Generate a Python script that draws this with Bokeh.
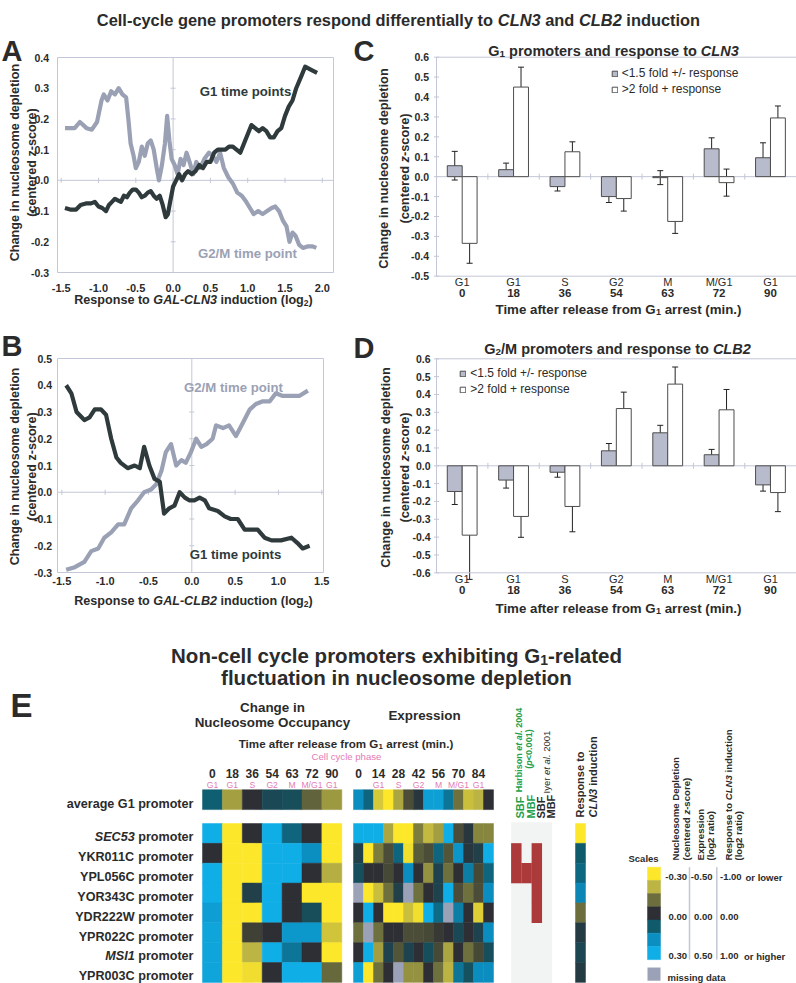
import math
import numpy as np
from bokeh.plotting import figure
from bokeh.models import (Range1d, Label, LabelSet, ColumnDataSource, Whisker, TeeHead, Legend, LegendItem)
from bokeh.core.properties import value
from bokeh.transform import linear_cmap
from bokeh.embed import file_html
from bokeh.resources import INLINE

nan = float("nan")

# ---------------- data: panel A (response to GAL-CLN3) ----------------
a_g1_x = [-1.45, -1.38, -1.30, -1.24, -1.17, -1.10, -1.05, -1.00, -0.95, -0.90, -0.86, -0.82, -0.78, -0.74,
          -0.70, -0.66, -0.62, -0.58, -0.54, -0.50, -0.46, -0.42, -0.38, -0.34, -0.30, -0.26, -0.22, -0.18,
          -0.14, -0.10, -0.07, -0.04, 0.00, 0.04, 0.08, 0.12, 0.16, 0.20, 0.25, 0.30, 0.35, 0.40, 0.45, 0.50,
          0.55, 0.60, 0.65, 0.70, 0.75, 0.80, 0.85, 0.90, 0.95, 1.00, 1.05, 1.10, 1.15, 1.20, 1.25, 1.30,
          1.35, 1.40, 1.45, 1.50, 1.55, 1.60, 1.65, 1.72, 1.77, 1.85, 1.93]
a_g1_y = [-0.090, -0.095, -0.095, -0.080, -0.075, -0.075, -0.070, -0.085, -0.090, -0.100, -0.080, -0.070,
          -0.060, -0.065, -0.070, -0.050, -0.055, -0.040, -0.030, -0.030, -0.040, -0.055, -0.050, -0.040,
          -0.035, -0.050, -0.060, -0.050, -0.080, -0.120, -0.110, -0.070, -0.020, 0.000, 0.020, 0.000,
          0.020, 0.030, 0.020, 0.030, 0.050, 0.040, 0.060, 0.060, 0.090, 0.100, 0.100, 0.100, 0.110, 0.110,
          0.100, 0.090, 0.120, 0.150, 0.180, 0.170, 0.160, 0.170, 0.160, 0.140, 0.140, 0.160, 0.170, 0.210,
          0.240, 0.260, 0.300, 0.340, 0.370, 0.360, 0.350]
a_g2m_x = [-1.45, -1.32, -1.25, -1.16, -1.09, -1.02, -0.96, -0.93, -0.88, -0.83, -0.78, -0.73, -0.68, -0.63,
           -0.60, -0.57, -0.53, -0.50, -0.46, -0.42, -0.38, -0.34, -0.30, -0.26, -0.22, -0.19, -0.15, -0.11,
           -0.08, -0.05, -0.02, 0.02, 0.06, 0.10, 0.14, 0.18, 0.22, 0.27, 0.31, 0.36, 0.42, 0.48, 0.53, 0.58,
           0.63, 0.68, 0.74, 0.80, 0.86, 0.92, 0.98, 1.03, 1.08, 1.14, 1.20, 1.26, 1.32, 1.37, 1.42, 1.47,
           1.52, 1.56, 1.60, 1.64, 1.69, 1.74, 1.80, 1.87, 1.92]
a_g2m_y = [0.170, 0.170, 0.190, 0.170, 0.165, 0.190, 0.260, 0.280, 0.260, 0.290, 0.280, 0.300, 0.280, 0.270,
           0.200, 0.120, 0.080, 0.040, 0.060, 0.110, 0.080, 0.120, 0.130, 0.100, 0.040, 0.000, 0.050, 0.120,
           0.210, 0.130, 0.070, 0.050, 0.020, 0.070, 0.050, 0.090, 0.060, 0.020, 0.060, 0.040, 0.070, 0.090,
           0.080, 0.060, 0.090, 0.040, 0.010, -0.010, -0.040, -0.050, -0.070, -0.090, -0.110, -0.100, -0.110,
           -0.100, -0.090, -0.085, -0.100, -0.130, -0.150, -0.200, -0.170, -0.180, -0.210, -0.220, -0.215,
           -0.215, -0.220]
a_xticks = [-1.5, -1.0, -0.5, 0.0, 0.5, 1.0, 1.5, 2.0]
a_yticks = [-0.3, -0.2, -0.1, 0.0, 0.1, 0.2, 0.3, 0.4]

# ---------------- data: panel B (response to GAL-CLB2) ----------------
b_g1_x = [-1.45, -1.39, -1.33, -1.24, -1.18, -1.12, -1.05, -0.99, -0.93, -0.87, -0.82, -0.74, -0.66, -0.60,
          -0.55, -0.49, -0.43, -0.37, -0.32, -0.26, -0.20, -0.14, -0.08, -0.03, 0.03, 0.09, 0.15, 0.20, 0.30,
          0.38, 0.45, 0.53, 0.61, 0.68, 0.76, 0.84, 0.92, 1.03, 1.15, 1.22, 1.28, 1.36]
b_g1_y = [0.40, 0.37, 0.30, 0.27, 0.28, 0.31, 0.31, 0.29, 0.20, 0.13, 0.11, 0.09, 0.10, 0.09, 0.17, 0.10,
          0.05, 0.04, -0.08, -0.06, -0.05, 0.00, -0.02, -0.03, -0.03, -0.02, -0.03, -0.06, -0.07, -0.09,
          -0.10, -0.10, -0.14, -0.14, -0.14, -0.17, -0.18, -0.18, -0.17, -0.19, -0.21, -0.20]
b_g2m_x = [-1.45, -1.35, -1.24, -1.16, -1.08, -1.01, -0.93, -0.85, -0.78, -0.70, -0.62, -0.55, -0.47, -0.41,
           -0.35, -0.30, -0.24, -0.18, -0.12, -0.07, -0.01, 0.05, 0.11, 0.17, 0.24, 0.28, 0.36, 0.43, 0.51,
           0.59, 0.67, 0.74, 0.82, 0.90, 0.97, 1.05, 1.15, 1.24, 1.34]
b_g2m_y = [-0.29, -0.28, -0.26, -0.22, -0.21, -0.17, -0.15, -0.12, -0.12, -0.06, -0.03, 0.00, 0.01, 0.03,
           0.08, 0.15, 0.18, 0.10, 0.12, 0.11, 0.15, 0.20, 0.17, 0.18, 0.20, 0.25, 0.24, 0.25, 0.21, 0.26,
           0.31, 0.33, 0.34, 0.34, 0.37, 0.36, 0.36, 0.36, 0.38]
b_xticks = [-1.5, -1.0, -0.5, 0.0, 0.5, 1.0, 1.5]
b_yticks = [-0.3, -0.2, -0.1, 0.0, 0.1, 0.2, 0.3, 0.4, 0.5]

# ---------------- data: panels C and D ----------------
phases = ["G1", "G1", "S", "G2", "M", "M/G1", "G1"]
times = ["0", "18", "36", "54", "63", "72", "90"]
c_low = [0.055, 0.035, -0.050, -0.100, -0.005, 0.140, 0.095]
c_low_err = [0.072, 0.033, 0.022, 0.030, 0.035, 0.055, 0.075]
c_high = [-0.335, 0.450, 0.125, -0.110, -0.225, -0.030, 0.295]
c_high_err = [0.100, 0.100, 0.050, 0.063, 0.060, 0.068, 0.060]
c_yticks = [-0.5, -0.4, -0.3, -0.2, -0.1, 0.0, 0.1, 0.2, 0.3, 0.4, 0.5, 0.6]
d_low = [-0.144, -0.080, -0.036, 0.084, 0.185, 0.062, -0.107]
d_low_err = [0.073, 0.045, 0.028, 0.041, 0.042, 0.030, 0.035]
d_high = [-0.389, -0.284, -0.228, 0.321, 0.458, 0.314, -0.150]
d_high_err = [0.248, 0.117, 0.142, 0.092, 0.096, 0.114, 0.107]
d_yticks = [-0.6, -0.5, -0.4, -0.3, -0.2, -0.1, 0.0, 0.1, 0.2, 0.3, 0.4, 0.5, 0.6]
legend_labels = ["<1.5 fold +/- response", ">2 fold + response"]

# ---------------- data: panel E ----------------
genes = ["SEC53", "YKR011C", "YPL056C", "YOR343C", "YDR222W", "YPR022C", "MSI1", "YPR003C"]
gene_italic = [True, False, False, False, False, False, True, False]
nuc_times = ["0", "18", "36", "54", "63", "72", "90"]
nuc_phases = ["G1", "G1", "S", "G2", "M", "M/G1", "G1"]
nuc_avg = [0.11, -0.17, 0.00, 0.06, 0.07, -0.08, -0.16]
nuc_genes = [
    [0.30, -0.30, 0.00, 0.30, 0.12, 0.00, -0.30],
    [0.00, -0.30, -0.30, 0.30, 0.30, 0.20, -0.30],
    [0.30, -0.30, -0.30, 0.30, 0.30, 0.00, -0.19],
    [0.30, -0.30, 0.04, 0.30, 0.00, -0.30, -0.30],
    [0.25, -0.30, -0.30, 0.30, 0.00, 0.07, -0.30],
    [0.27, -0.30, -0.03, 0.00, 0.23, 0.23, -0.23],
    [0.27, -0.30, -0.20, 0.30, 0.15, 0.00, -0.30],
    [0.27, -0.30, -0.28, 0.00, 0.30, 0.30, -0.09],
]
expr_times = ["0", "7", "14", "21", "28", "35", "42", "49", "56", "63", "70", "77", "84", "91"]
expr_shown = ["0", "14", "28", "42", "56", "70", "84"]
expr_phases = ["", "G1", "S", "G2", "M", "M/G1", "G1"]
expr_avg = [0.33, 0.20, -0.40, -0.50, -0.30, -0.08, 0.03, 0.42, 0.42, 0.25, -0.17, -0.37, -0.33, 0.00]
expr_genes = [
    [0.50, 0.50, 0.50, -0.30, -0.50, -0.50, -0.20, -0.35, -0.28, 0.50, -0.08, 0.03, -0.22, -0.22],
    [0.07, -0.50, -0.20, -0.08, 0.20, -0.47, -0.12, -0.08, 0.20, -0.10, 0.37, 0.03, 0.07, 0.50],
    [0.12, 0.00, 0.00, -0.07, 0.00, 0.33, 0.00, -0.25, 0.08, -0.17, 0.00, 0.28, -0.07, 0.20],
    [nan, -0.50, -0.37, -0.17, 0.07, nan, -0.17, 0.00, 0.08, 0.50, -0.08, -0.17, -0.08, 0.33],
    [0.00, 0.50, 0.00, -0.50, -0.50, -0.37, -0.47, 0.50, 0.22, nan, 0.28, 0.00, -0.42, 0.00],
    [-0.17, nan, -0.17, 0.00, 0.00, -0.08, -0.08, -0.07, -0.03, 0.00, 0.10, 0.00, 0.08, 0.33],
    [0.00, 0.50, -0.28, 0.08, -0.10, 0.08, 0.00, 0.12, -0.07, -0.30, 0.00, -0.17, -0.07, 0.12],
    [0.42, -0.50, -0.17, 0.00, nan, -0.25, -0.25, 0.00, -0.17, -0.33, 0.25, 0.13, 0.33, 0.33],
]
tf_names = ["SBF", "MBF", "SBF", "MBF"]
tf_hits = [
    [0, 0, 0, 0],
    [1, 0, 1, 0],
    [1, 1, 1, 0],
    [0, 0, 1, 0],
    [0, 0, 1, 0],
    [0, 0, 0, 0],
    [0, 0, 0, 0],
    [0, 0, 0, 0],
]
cln3_response = [-1.00, 0.33, 0.42, 0.62, -0.33, 0.10, 0.18, 0.10]
scale_levels = [-0.30, -0.20, -0.10, 0.00, 0.10, 0.20, 0.30]
scale_nuc_text = ["-0.30", "0.00", "0.30"]
scale_expr_text = ["-0.50", "0.00", "0.50"]
scale_resp_text = ["-1.00", "0.00", "1.00"]

# ---------------- styling ----------------
FONT = "Liberation Sans"
INK = "#2b2b2b"
DARK = "#2f3a3c"
LIGHT = "#9ba1b4"
FRAME = "#c3c7d7"
PINK = "#e37bb5"
GREEN = "#22a04b"
RED = "#ad3a3a"
GRAYBAR = "#b7bbcc"
BARLINE = "#4d4d4d"
NAN_C = "#9ba1b6"
TF_BG = "#f2f4f4"
ANCHORS = ["#fce72a", "#bcb443", "#6c6f3d", "#2d2e33", "#0f5a6b", "#0b8ec0", "#10aee6"]


def interp_palette(cols, n=256):
    arr = np.array([[int(c[i:i + 2], 16) for i in (1, 3, 5)] for c in cols], float)
    out = []
    for v in np.linspace(0, len(cols) - 1, n):
        i = min(int(v), len(cols) - 2)
        f = v - i
        c = arr[i] * (1 - f) + arr[i + 1] * f
        out.append("#%02x%02x%02x" % tuple(int(round(x)) for x in c))
    return out


PAL = interp_palette(ANCHORS)

# Arial-compatible advance widths (Liberation Sans), per 1000 em
_UP = "ABCDEFGHIJKLMNOPQRSTUVWXYZ"
_LO = "abcdefghijklmnopqrstuvwxyz"
REG_W = dict(zip(_UP, [667, 667, 722, 722, 667, 611, 778, 722, 278, 500, 667, 556, 833, 722, 778, 667, 778,
                       722, 667, 611, 722, 667, 944, 667, 667, 611]))
REG_W.update(zip(_LO, [556, 556, 500, 556, 556, 278, 556, 556, 222, 222, 500, 222, 833, 556, 556, 556, 556,
                       333, 500, 278, 556, 500, 722, 500, 500, 500]))
REG_W.update(zip(" !()+,-./:<>", [278, 278, 333, 333, 584, 278, 333, 278, 278, 278, 584, 584]))
BOLD_W = dict(zip(_UP, [722, 722, 722, 722, 667, 611, 778, 722, 278, 556, 722, 611, 833, 722, 778, 667, 778,
                        722, 667, 611, 722, 667, 944, 667, 667, 611]))
BOLD_W.update(zip(_LO, [556, 611, 556, 611, 556, 333, 611, 611, 278, 278, 556, 278, 889, 611, 611, 611, 611,
                        389, 556, 333, 611, 556, 778, 556, 556, 500]))
BOLD_W.update(zip(" !()+,-./:<>", [278, 333, 333, 333, 584, 278, 333, 278, 278, 333, 584, 584]))

W, H = 796, 983
P = figure(width=W, height=H, x_range=Range1d(0, W), y_range=Range1d(H, 0), output_backend="svg",
           toolbar_location=None, title_location=None, x_axis_location=None, y_axis_location=None,
           min_border=0)
P.outline_line_color = None
P.grid.visible = False


def _w(text, bold):
    tab = BOLD_W if bold else REG_W
    return sum(tab.get(ch, 556) for ch in text) / 1000.0


def rich(x, y, segs, size, align="left", angle=0.0, color=INK):
    """Text segments; x, y: pixel position of the baseline anchor from the top-left of the page."""
    parts, total = [], 0.0
    for t, fl in segs:
        sz = size * (0.68 if "s" in fl else 1.0)
        lead = len(t) - len(t.lstrip(" "))
        parts.append((t.strip(" "), fl, sz, total + _w(" " * lead, "b" in fl) * sz))
        total += _w(t, "b" in fl) * sz
    shift = {"left": 0.0, "center": total / 2.0, "right": total}[align]
    vert = abs(angle) > 0.1
    for t, fl, sz, off in parts:
        o = off - shift
        dn = 0.22 * size if "s" in fl else 0.0
        px, py = (x + dn, y - o) if vert else (x + o, y + dn)
        style = (("bold " if "b" in fl else "") + ("italic" if "i" in fl else "")).strip() or "normal"
        P.add_layout(Label(x=px, y=H - py, x_units="screen", y_units="screen", text=t,
                           text_font=FONT, text_font_size=f"{sz:.2f}px", text_font_style=style,
                           text_color=color, text_align="left", text_baseline="alphabetic", angle=angle))


def txt(x, y, text, size, fl="b", align="left", angle=0.0, color=INK):
    rich(x, y, [(text, fl)], size, align, angle, color)


def vtitle(cx, cy, segs, size):
    rich(cx + 0.36 * size, cy, segs, size, "center", math.pi / 2)


def lin_range(d0, p0, d1, p1, P0, P1):
    k = (d1 - d0) / (p1 - p0)
    return Range1d(start=d0 + (P0 - p0) * k, end=d0 + (P1 - p0) * k)


def band(left, pitch, lo, hi):
    return Range1d(start=(lo - left) / pitch - 0.5, end=(hi - left) / pitch - 0.5)


# chart boxes (pixel placement of each chart's data area)
A_BOX = dict(x=(-1.55, 57, 2.15, 333), y=(0.4, 57, -0.3, 272))
B_BOX = dict(x=(-1.55, 57, 1.52, 323), y=(0.5, 358, -0.3, 572))
PITCH = 51.38
C_BOX = dict(x=(0, 436, (796 - 436) / PITCH, 796), y=(0.6, 56.7, -0.5, 275.7))
D_BOX = dict(x=(0, 436, (796 - 436) / PITCH, 796), y=(0.6, 358.3, -0.6, 572.3))

NUC_L, NUC_P = 202, 19.9
EXP_L, EXP_P = 353, 10
TF_L, TF_P = 510.7, 10.25
RSP_L = 575
ROW_T, ROW_P = 823, 19.86
SW_T, SW_P = 866.7, 13.2

P.extra_x_ranges = {
    "ax": lin_range(*A_BOX["x"], 0, W), "bx": lin_range(*B_BOX["x"], 0, W),
    "cx": lin_range(*C_BOX["x"], 0, W),
    "nuc": band(NUC_L, NUC_P, 0, W), "expr": band(EXP_L, EXP_P, 0, W), "tf": band(TF_L, TF_P, 0, W),
    "resp": band(RSP_L, 10, 0, W), "sw": band(647, 13, 0, W)}
P.extra_y_ranges = {
    "ay": lin_range(*A_BOX["y"], H, 0), "by": lin_range(*B_BOX["y"], H, 0),
    "cy": lin_range(*C_BOX["y"], H, 0), "dy": lin_range(*D_BOX["y"], H, 0),
    "rows": band(ROW_T, ROW_P, H, 0), "sw": band(SW_T, SW_P, H, 0)}

TXT_PROPS = dict(text_font=value(FONT), text_color=INK)


def tick_labels(vals, fmt, rn, axis, pos, size, align):
    src = ColumnDataSource(dict(t=vals, s=[fmt % v for v in vals]))
    if axis == "y":
        ls = LabelSet(x=pos, x_units="screen", y="t", y_range_name=rn, text="s", source=src,
                      text_align=align, text_baseline="middle", text_font_size=value(f"{size}px"),
                      text_font_style=value("bold"), **TXT_PROPS)
    else:
        ls = LabelSet(x="t", x_range_name=rn, y=H - pos, y_units="screen", text="s", source=src,
                      text_align="center", text_baseline="middle", text_font_size=value(f"{size}px"),
                      text_font_style=value("bold"), **TXT_PROPS)
    P.add_layout(ls)


# ---------------- header ----------------
rich(398, 19.9, [("Cell-cycle gene promoters respond differentially to ", "b"), ("CLN3", "bi"),
                 (" and ", "b"), ("CLB2", "bi"), (" induction", "b")], 16.4, "center")


# ---------------- panels A and B ----------------
def line_chart(xn, yn, box, xticks, yticks, ylab_right, xlab_y, series):
    x_lo, x_hi = box["x"][0], box["x"][2]
    y_hi, y_lo = box["y"][0], box["y"][2]
    rn = dict(x_range_name=xn, y_range_name=yn)
    P.quad(left=[x_lo], right=[x_hi], bottom=[y_lo], top=[y_hi], fill_color=None, line_color=FRAME,
           line_width=1, **rn)
    P.segment(x0=[0, x_lo], y0=[y_lo, 0], x1=[0, x_hi], y1=[y_hi, 0], line_color=FRAME, line_width=1, **rn)
    P.scatter(x=[0] * len(yticks), y=yticks, marker="dash", size=5, line_color=FRAME, **rn)
    P.scatter(x=xticks, y=[0] * len(xticks), marker="dash", angle=math.pi / 2, size=5, line_color=FRAME, **rn)
    for xs, ys, col in series:
        P.line(xs, ys, line_color=col, line_width=4.2, line_join="round", **rn)
    tick_labels(yticks, "%.1f", yn, "y", ylab_right, 10.5, "right")
    tick_labels(xticks, "%.1f", xn, "x", xlab_y, 11, "center")


line_chart("ax", "ay", A_BOX, a_xticks, a_yticks, 48.5, 287,
           [(a_g2m_x, a_g2m_y, LIGHT), (a_g1_x, a_g1_y, DARK)])
txt(1, 50, "A", 29)
vtitle(10, 162, [("Change in nucleosome depletion", "b")], 12.6)
vtitle(27, 162, [("(centered z-score)", "b")], 12.6)
rich(193, 299.5, [("Response to ", "b"), ("GAL-CLN3", "bi"), (" induction (log", "b"), ("2", "bs"),
                  (")", "b")], 12.6, "center")
txt(245, 90.8, "G1 time points", 13.2, align="center", color=DARK)
txt(247, 252.8, "G2/M time point", 13.2, align="center", color=LIGHT)

line_chart("bx", "by", B_BOX, b_xticks, b_yticks, 51.5, 580,
           [(b_g2m_x, b_g2m_y, LIGHT), (b_g1_x, b_g1_y, DARK)])
txt(1, 345, "B", 29)
vtitle(10, 466, [("Change in nucleosome depletion", "b")], 12.6)
vtitle(27, 466, [("(centered z-score)", "b")], 12.6)
rich(193, 600.5, [("Response to ", "b"), ("GAL-CLB2", "bi"), (" induction (log", "b"), ("2", "bs"),
                  (")", "b")], 12.6, "center")
txt(233, 386.8, "G2/M time point", 13.2, align="center", color=LIGHT)
txt(235, 553.8, "G1 time points", 13.2, align="center", color=DARK)


# ---------------- panels C and D ----------------
def bar_chart(yn, box, yticks, low, low_err, high, high_err, ylab_right, leg_xy, ph_y, num_y):
    x_lo, x_hi = box["x"][0], box["x"][2]
    y_hi, y_lo = box["y"][0], box["y"][2]
    rn = dict(x_range_name="cx", y_range_name=yn)
    P.quad(left=[x_lo], right=[x_hi], bottom=[y_lo], top=[y_hi], fill_color=None, line_color=FRAME,
           line_width=1, **rn)
    P.segment(x0=[x_lo], y0=[0], x1=[x_hi], y1=[0], line_color=FRAME, line_width=1, **rn)
    P.scatter(x=[x_lo] * len(yticks), y=yticks, marker="dash", size=5, line_color=FRAME, **rn)
    P.scatter(x=list(range(1, len(times))), y=[0] * (len(times) - 1), marker="dash", angle=math.pi / 2,
              size=6, line_color=FRAME, **rn)
    idx = np.arange(len(times))
    lo, le, hi, he = map(np.array, (low, low_err, high, high_err))
    src = ColumnDataSource(dict(xg=idx + 0.5 - 0.145, xw=idx + 0.5 + 0.145, g=lo, w=hi,
                                gu=lo + le, gl=lo - le, wu=hi + he, wl=hi - he))
    rg = P.vbar(x="xg", top="g", width=0.29, source=src, fill_color=GRAYBAR, line_color=BARLINE,
                line_width=1, **rn)
    rw = P.vbar(x="xw", top="w", width=0.29, source=src, fill_color="white", line_color=BARLINE,
                line_width=1, **rn)
    for b, u, l in (("xg", "gu", "gl"), ("xw", "wu", "wl")):
        P.add_layout(Whisker(base=b, upper=u, lower=l, source=src, line_color="#222222", line_width=1,
                             upper_head=TeeHead(size=6, line_color="#222222", line_width=1),
                             lower_head=TeeHead(size=6, line_color="#222222", line_width=1), **rn))
    gx, gy = leg_xy
    P.add_layout(Legend(items=[LegendItem(label=value(legend_labels[0]), renderers=[rg]),
                               LegendItem(label=value(legend_labels[1]), renderers=[rw])],
                        location=(gx, H - (gy + 23)), glyph_width=7, glyph_height=7, label_height=14,
                        spacing=2, padding=0, margin=0, border_line_color=None, background_fill_alpha=0,
                        label_text_font=FONT, label_text_font_size="12px", label_text_color=INK,
                        label_standoff=4))
    tick_labels(yticks, "%.1f", yn, "y", ylab_right, 10.5, "right")
    csrc = ColumnDataSource(dict(c=idx + 0.5, ph=phases, t=times))
    P.add_layout(LabelSet(x="c", x_range_name="cx", y=H - ph_y, y_units="screen", text="ph", source=csrc,
                          text_align="center", text_baseline="middle", text_font_size=value("11px"),
                          **TXT_PROPS))
    P.add_layout(LabelSet(x="c", x_range_name="cx", y=H - num_y, y_units="screen", text="t", source=csrc,
                          text_align="center", text_baseline="middle", text_font_size=value("11.5px"),
                          text_font_style=value("bold"), **TXT_PROPS))


bar_chart("cy", C_BOX, c_yticks, c_low, c_low_err, c_high, c_high_err, 428.5, (610.7, 73.3), 281.7, 292.7)
txt(353, 50, "C", 29)
rich(613, 50.2, [("G", "b"), ("1", "bs"), (" promoters and response to ", "b"), ("CLN3", "bi")], 14.5, "center")
vtitle(378, 168, [("Change in nucleosome depletion", "b")], 12.8)
vtitle(399, 168, [("(centered ", "b"), ("z", "bi"), ("-score)", "b")], 12.8)
rich(618, 308.5, [("Time after release from G", "b"), ("1", "bs"), (" arrest (min.)", "b")], 13.3, "center")

bar_chart("dy", D_BOX, d_yticks, d_low, d_low_err, d_high, d_high_err, 430, (459.3, 373.3), 578.3, 589.3)
txt(353, 347, "D", 29)
rich(617, 348.2, [("G", "b"), ("2", "bs"), ("/M promoters and response to ", "b"), ("CLB2", "bi")], 14.5,
     "center")
vtitle(380, 467, [("Change in nucleosome depletion", "b")], 12.8)
vtitle(399, 467, [("(centered ", "b"), ("z", "bi"), ("-score)", "b")], 12.8)
rich(618, 607.8, [("Time after release from G", "b"), ("1", "bs"), (" arrest (min.)", "b")], 13.3, "center")

# ---------------- panel E ----------------
R_AVG = -1.7
row_pos = [R_AVG] + list(range(len(genes)))


def heat(values, xr, low, high):
    xs, ys, vs = [], [], []
    for rp, rv in zip(row_pos, values):
        for c, v in enumerate(rv):
            xs.append(c)
            ys.append(rp)
            vs.append(v)
    src = ColumnDataSource(dict(c=xs, r=ys, v=vs))
    cm = linear_cmap("v", PAL, low, high, nan_color=NAN_C)
    P.rect(x="c", y="r", width=1, height=1, source=src, fill_color=cm, line_color=cm, line_width=0.5,
           x_range_name=xr, y_range_name="rows")


heat([nuc_avg] + nuc_genes, "nuc", -0.3, 0.3)
heat([expr_avg] + expr_genes, "expr", -0.5, 0.5)

# TF binding annotation
P.quad(left=[-0.5], right=[len(tf_names) - 0.5], top=[-0.565], bottom=[len(genes) - 0.5 + 0.6],
       fill_color=TF_BG, line_color=None, x_range_name="tf", y_range_name="rows")
hx = [c for r, rv in enumerate(tf_hits) for c, v in enumerate(rv) if v]
hy = [r for r, rv in enumerate(tf_hits) for c, v in enumerate(rv) if v]
P.rect(x=hx, y=hy, width=1.02, height=1.02, fill_color=RED, line_color=None, x_range_name="tf",
       y_range_name="rows")

# CLN3 response column
rsrc = ColumnDataSource(dict(c=[0] * len(genes), r=list(range(len(genes))), v=cln3_response))
rcm = linear_cmap("v", PAL, -1.0, 1.0, nan_color=NAN_C)
P.rect(x="c", y="r", width=1, height=1, source=rsrc, fill_color=rcm, line_color=rcm, line_width=0.5,
       x_range_name="resp", y_range_name="rows")

# scale swatches
ssrc = ColumnDataSource(dict(c=[0] * len(scale_levels), r=list(range(len(scale_levels))), v=scale_levels))
scm = linear_cmap("v", PAL, -0.3, 0.3, nan_color=NAN_C)
P.rect(x="c", y="r", width=1, height=1, source=ssrc, fill_color=scm, line_color=scm, line_width=0.5,
       x_range_name="sw", y_range_name="sw")
P.rect(x=[0], y=[7.6], width=1, height=1, fill_color=NAN_C, line_color=None, x_range_name="sw",
       y_range_name="sw")
P.segment(x0=[689, 716.3], y0=[SW_T, SW_T], x1=[689, 716.3], y1=[SW_T + 7 * SW_P, SW_T + 7 * SW_P],
          line_color=FRAME, line_width=1.5)

# column headers of the heat maps
nsrc = ColumnDataSource(dict(c=list(range(len(nuc_times))), t=nuc_times, ph=nuc_phases))
esrc = ColumnDataSource(dict(c=[expr_times.index(t) for t in expr_shown], t=expr_shown, ph=expr_phases))
for src, rn in ((nsrc, "nuc"), (esrc, "expr")):
    P.add_layout(LabelSet(x="c", x_range_name=rn, y=H - 773, y_units="screen", text="t", source=src,
                          text_align="center", text_baseline="middle", text_font_size=value("12px"),
                          text_font_style=value("bold"), **TXT_PROPS))
    P.add_layout(LabelSet(x="c", x_range_name=rn, y=H - 784.3, y_units="screen", text="ph", source=src,
                          text_align="center", text_baseline="middle", text_font_size=value("8.6px"),
                          text_font=value(FONT), text_color=PINK))

rich(396, 655.4, [("Non-cell cycle promoters exhibiting G", "b"), ("1", "bs"), ("-related", "b")], 20.5,
     "center")
txt(396, 677.4, "fluctuation in nucleosome depletion", 20.5, align="center")
txt(10, 705, "E", 33)
txt(272, 706.8, "Change in", 13.4, align="center")
txt(272, 721.8, "Nucleosome Occupancy", 13.4, align="center")
txt(424, 714.8, "Expression", 13.4, align="center")
rich(345.5, 743.2, [("Time after release from G", "b"), ("1", "bs"), (" arrest (min.)", "b")], 11.6, "center")
txt(346, 755.5, "Cell cycle phase", 9.6, fl="n", align="center", color=PINK)


def row_y(r):
    return ROW_T + ROW_P * (r + 0.5)


txt(193, row_y(R_AVG) + 4.3, "average G1 promoter", 12.6, align="right")
for r, (g, it) in enumerate(zip(genes, gene_italic)):
    rich(193, row_y(r) + 3.8, [(g, "bi" if it else "b"), (" promoter", "b")], 12.6, "right")

V = math.pi / 2
for i, (nm, col) in enumerate(zip(tf_names, [GREEN, GREEN, INK, INK])):
    txt(TF_L + TF_P * (i + 0.5) + 4, 818, nm, 11, angle=V, color=col)
rich(515.5 + 3.2, 749.5, [("Harbison ", "b"), ("et al.", "bi"), (" 2004", "b")], 9, "center", V, GREEN)
rich(525.5 + 3.2, 748.5, [("(", "b"), ("p", "bi"), ("<0.001)", "b")], 9, "center", V, GREEN)
rich(543 + 3.4, 793, [("Iyer ", "n"), ("et al.", "i"), (" 2001", "n")], 9.5, "left", V, INK)
rich(575 + 4, 817, [("Response to", "b")], 11, "left", V)
rich(588 + 4, 817, [("CLN3", "bi"), (" induction", "b")], 11, "left", V)

txt(628, 858.4, "Scales", 9.5)
rich(671.5 + 3.5, 860, [("Nucleosome Depletion", "b")], 9.6, "left", V)
rich(682 + 3.5, 860, [("(centered ", "b"), ("z", "bi"), ("-score)", "b")], 9.6, "left", V)
rich(696.7 + 3.5, 860, [("Expression", "b")], 9.6, "left", V)
rich(706.7 + 3.5, 860, [("(log2 ratio)", "b")], 9.6, "left", V)
rich(724.2 + 3.5, 860, [("Response to ", "b"), ("CLN3", "bi"), (" induction", "b")], 9.6, "left", V)
rich(734 + 3.5, 860, [("(log2 ratio)", "b")], 9.6, "left", V)
for k, blk in enumerate([0, 3, 6]):
    by = SW_T + SW_P * (blk + 0.5) + 3.4
    txt(686.5, by, scale_nuc_text[k], 9.5, align="right")
    txt(712, by, scale_expr_text[k], 9.5, align="right")
    txt(719.5, by, scale_resp_text[k], 9.5)
txt(745, SW_T + SW_P * 0.5 + 3.4, "or lower", 9.5)
txt(743.5, SW_T + SW_P * 6.5 + 3.4, "or higher", 9.5)
txt(667, SW_T + SW_P * 8.1 + 3.2, "missing data", 9.5)

open("out.html", "w").write(file_html(P, INLINE))
